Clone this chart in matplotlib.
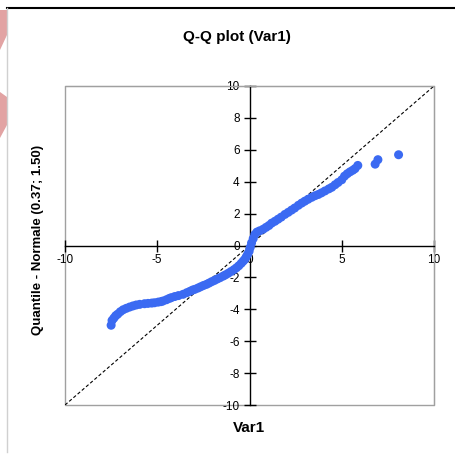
import matplotlib
matplotlib.use("Agg")
import matplotlib.pyplot as plt
from matplotlib.patches import Rectangle, Polygon
from matplotlib.lines import Line2D

plt.rcParams['font.family'] = ['Liberation Sans', 'DejaVu Sans']

# sample quantiles (Var1)
var1 = [-7.50, -7.45, -7.35, -7.25, -7.14, -7.00, -6.85, -6.68, -6.50, -6.32,
        -6.14, -5.95, -5.69, -5.50, -5.30, -5.15, -4.95, -4.80, -4.69, -4.50,
        -4.35, -4.24, -4.05, -3.85, -3.60, -3.40, -3.24, -3.10, -2.97, -2.80,
        -2.65, -2.50, -2.34, -2.20, -2.05, -1.90, -1.75, -1.60, -1.43, -1.30,
        -1.15, -1.00, -0.85, -0.71, -0.58, -0.45, -0.35, -0.26, -0.18, -0.10,
        -0.02, 0.04, 0.11, 0.20, 0.29, 0.40, 0.55, 0.74, 0.90, 1.05,
        1.20, 1.38, 1.55, 1.72, 1.92, 2.10, 2.28, 2.45, 2.65, 2.83,
        3.00, 3.18, 3.37, 3.55, 3.73, 3.90, 4.09, 4.30, 4.46, 4.64,
        4.80, 5.00, 5.15, 5.30, 5.45, 5.60, 5.72, 5.87, 6.81, 6.96,
        8.08]
# theoretical normal quantiles (mean 0.37, sd 1.50)
normal_q = [-5.00, -4.70, -4.55, -4.40, -4.30, -4.15, -4.03, -3.94, -3.86, -3.79,
            -3.73, -3.69, -3.65, -3.63, -3.61, -3.59, -3.55, -3.52, -3.48, -3.40,
            -3.32, -3.27, -3.20, -3.14, -3.06, -2.96, -2.88, -2.80, -2.75, -2.67,
            -2.59, -2.51, -2.44, -2.36, -2.27, -2.19, -2.10, -2.02, -1.92, -1.84,
            -1.74, -1.63, -1.52, -1.40, -1.27, -1.12, -0.99, -0.88, -0.72, -0.55,
            -0.36, -0.12, 0.16, 0.43, 0.69, 0.84, 0.92, 1.02, 1.14, 1.25,
            1.40, 1.52, 1.65, 1.78, 1.95, 2.08, 2.22, 2.35, 2.52, 2.66,
            2.78, 2.90, 3.02, 3.12, 3.20, 3.30, 3.42, 3.55, 3.65, 3.81,
            3.95, 4.12, 4.35, 4.50, 4.62, 4.72, 4.82, 5.02, 5.10, 5.38,
            5.69]

diag = [-10, 10]
xticks = [-10, -5, 0, 5, 10]
yticks = [-10, -8, -6, -4, -2, 0, 2, 4, 6, 8, 10]

fig = plt.figure(figsize=(4.55, 4.59), dpi=100)

# page decorations around the chart
fig.add_artist(Line2D([7 / 455, 1], [1 - 8 / 459, 1 - 8 / 459], color='black', lw=1.5))
fig.add_artist(Line2D([7 / 455, 7 / 455], [1 - 8 / 459, 1 - 452 / 459], color='#d0d0d0', lw=1))
for pts in ([(0, 10), (7, 10), (7, 35), (0, 50)], [(0, 92), (7, 97), (7, 125), (0, 138)]):
    fig.add_artist(Polygon([(x / 455, 1 - y / 459) for x, y in pts], closed=True,
                           facecolor='#e2a3a3', edgecolor='none'))

ax = fig.add_axes([65 / 455, 1 - 405 / 459, 369 / 455, 319 / 459])
ax.set_xlim(-10, 10)
ax.set_ylim(-10, 10)

ax.plot(diag, diag, color='black', ls=(0, (3, 2)), lw=0.8, zorder=2)
ax.scatter(var1, normal_q, s=42, color='#3b6af2', edgecolors='none', zorder=3)

# axes crossing at zero, grey outer frame
ax.spines['left'].set_position(('data', 0))
ax.spines['bottom'].set_position(('data', 0))
ax.spines['left'].set_linewidth(1)
ax.spines['bottom'].set_linewidth(1)
ax.spines['top'].set_color('#a0a0a0')
ax.spines['right'].set_color('#a0a0a0')
ax.add_patch(Rectangle((0, 0), 1, 1, transform=ax.transAxes, fill=False,
                       edgecolor='#a0a0a0', lw=1, zorder=1, clip_on=False))

ax.set_xticks(xticks)
ax.set_yticks(yticks)
ax.set_xticklabels([str(t) for t in xticks])
ax.set_yticklabels([str(t) for t in yticks])
ax.tick_params(direction='inout', length=8, width=1, labelsize=8.5, pad=2)
ax.tick_params(axis='y', pad=3)
ax.tick_params(top=False, right=False)

fig.text(237 / 455, 1 - 37 / 459, 'Q-Q plot (Var1)', ha='center', va='center',
         fontsize=11, fontweight='bold')
fig.text(249 / 455, 1 - 428 / 459, 'Var1', ha='center', va='center',
         fontsize=11, fontweight='bold')
fig.text(38 / 455, 1 - 240 / 459, 'Quantile - Normale (0.37; 1.50)', ha='center',
         va='center', rotation=90, fontsize=9.5, fontweight='bold')

fig.savefig('out.png', dpi=100)
